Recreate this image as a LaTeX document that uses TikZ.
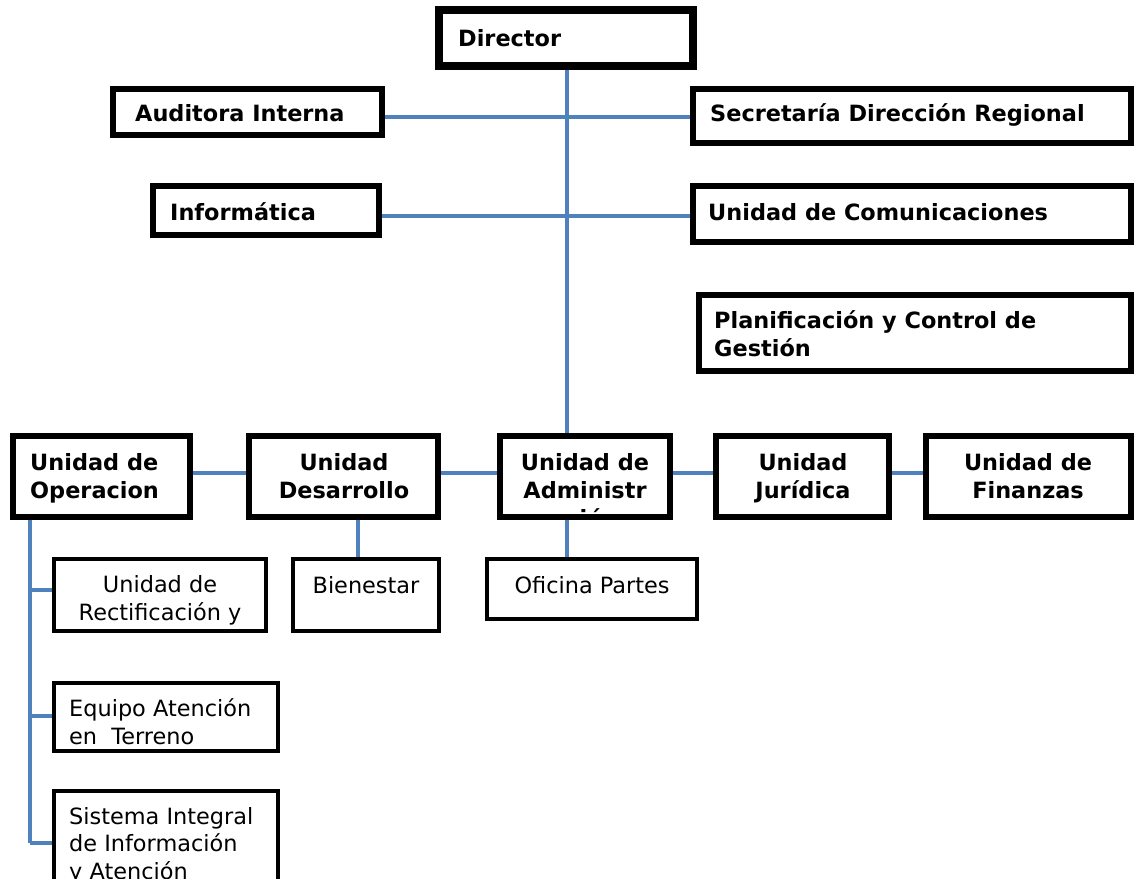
\documentclass[tikz,border=0pt]{standalone}
\usepackage{fontspec}
\setmainfont{DejaVu Sans}
\definecolor{linkblue}{HTML}{4F81BD}
\newcommand\mybox[6]{%
  \node[boxst, line width=#6pt, minimum width={(#4-#2-#6)*1pt}, minimum height={(#5-#3-#6)*1pt}] (#1) at ({(#2+#4)/2},{(#3+#5)/2}) {};}
\begin{document}
\begin{tikzpicture}[x=1pt,y=-1pt,
  boxst/.style={draw=black, fill=white, rectangle, inner sep=0pt},
  conn/.style={draw=linkblue, line width=3.2pt},
  bt/.style={inner sep=0pt, font=\bfseries\fontsize{22.4}{28}\selectfont, text=black},
  rt/.style={inner sep=0pt, font=\fontsize{22.4}{27.5}\selectfont, text=black}]
\useasboundingbox (0,0) rectangle (1134,878);
\fill[white] (0,0) rectangle (1134,878);
% main vertical connector (boxes drawn on top)
\coordinate (vtop) at (567,66);
\coordinate (vbot) at (567,436);
\draw[conn] (vtop) -- (vbot);
% boxes
\mybox{dir}{435}{6}{697}{70}{8}
\mybox{aud}{110}{86}{385}{138}{6}
\mybox{sec}{690}{86}{1134}{146}{6}
\mybox{inf}{150}{183}{382}{238}{6}
\mybox{com}{690}{183}{1134}{245}{6}
\mybox{pla}{696}{292}{1134}{374}{6}
\mybox{op}{10}{433}{193}{520}{6}
\mybox{des}{246}{433}{441}{520}{6}
\mybox{adm}{497}{433}{673}{520}{6}
\mybox{jur}{713}{433}{892}{520}{6}
\mybox{fin}{923}{433}{1134}{520}{6}
\mybox{rec}{52}{557}{268}{633}{4}
\mybox{bie}{291}{557}{441}{633}{4}
\mybox{ofi}{485}{557}{699}{621}{4}
\mybox{equ}{52}{681}{280}{753}{4}
\mybox{sis}{52}{789}{280}{900}{4}
% connectors
\draw[conn] (dir.south -| vtop) -- (adm.north -| vtop);
\draw[conn] (aud.east |- 0,117) -- (sec.west |- 0,117);
\draw[conn] (inf.east |- 0,216) -- (com.west |- 0,216);
\draw[conn] (op.east |- 0,473) -- (des.west |- 0,473);
\draw[conn] (des.east |- 0,473) -- (adm.west |- 0,473);
\draw[conn] (adm.east |- 0,473) -- (jur.west |- 0,473);
\draw[conn] (jur.east |- 0,473) -- (fin.west |- 0,473);
\draw[conn] (des.south -| 358,0) -- (bie.north -| 358,0);
\draw[conn] (adm.south -| 567,0) -- (ofi.north -| 567,0);
\coordinate (obot) at (30,843);
\draw[conn] (op.south -| 30,0) -- (obot);
\draw[conn] (30,590) -- (rec.west |- 0,590);
\draw[conn] (30,716) -- (equ.west |- 0,716);
\draw[conn] (obot) -- (sis.west |- obot);
% texts (base anchor = baseline of last line)
\node[bt, anchor=base west] (tdir) at (458,46) {Director};
\node[bt, anchor=base west] (taud) at (135,121) {Auditora Interna};
\node[bt, anchor=base west] (tsec) at (710,121) {Secretaría Dirección Regional};
\node[bt, anchor=base west] (tinf) at (170,220) {Informática};
\node[bt, anchor=base west] (tcom) at (708,220) {Unidad de Comunicaciones};
\node[bt, anchor=base west, align=left] (tpla) at (714,356) {Planificación y Control de\\Gestión};
\node[bt, anchor=base west, align=left] (top) at (30,498) {Unidad de\\Operacion};
\node[bt, anchor=base, align=center] (tdes) at (344,498) {Unidad\\Desarrollo};
\begin{scope}
\clip (503,439) rectangle (667,512);
\node[bt, anchor=base, align=center] (tadm) at (585,526) {Unidad de\\Administr\\ación};
\end{scope}
\node[bt, anchor=base, align=center] (tjur) at (803,498) {Unidad\\Jurídica};
\node[bt, anchor=base, align=center] (tfin) at (1028,498) {Unidad de\\Finanzas};
\node[rt, anchor=base, align=center] (trec) at (160,620) {Unidad de\\Rectificación y};
\node[rt, anchor=base] (tbie) at (366,593) {Bienestar};
\node[rt, anchor=base] (tofi) at (592,593) {Oficina Partes};
\node[rt, anchor=base west, align=left] (tequ) at (69,744) {Equipo Atención\\en\ \ Terreno};
\node[rt, anchor=base west, align=left] (tsis) at (69,879) {Sistema Integral\\de Información\\y Atención};
\end{tikzpicture}
\end{document}
